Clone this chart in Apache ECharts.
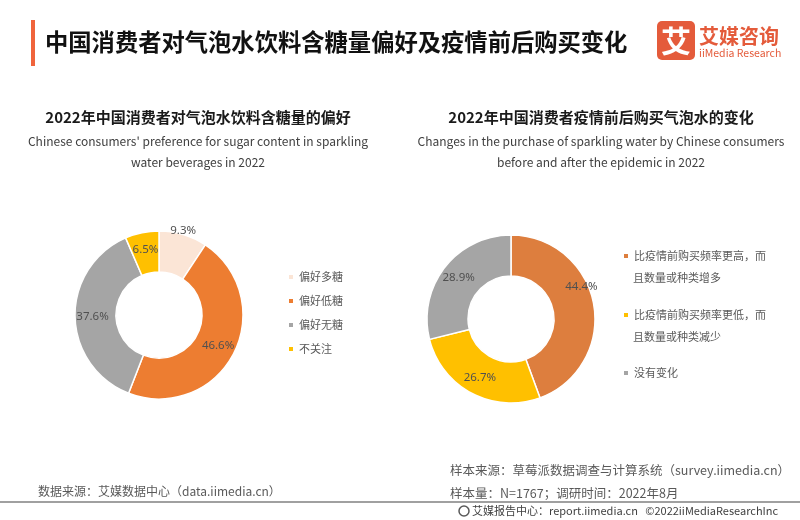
<!DOCTYPE html>
<html>
<head>
<meta charset="utf-8">
<script src="https://cdn.jsdelivr.net/npm/echarts@6/dist/echarts.min.js"></script>
<style>
html,body{margin:0;padding:0;background:#fff;}
#main{width:800px;height:520px;}
</style>
</head>
<body>
<div id="main"></div>
<script>
// ---- data ----
const sugarCategories = ['偏好多糖', '偏好低糖', '偏好无糖', '不关注'];
const sugarValues = [9.3, 46.6, 37.6, 6.5];
const sugarColors = ['#FBE5D6', '#ED7D31', '#A5A5A5', '#FFC000'];

const changeCategories = ['比疫情前购买频率更高，而且数量或种类增多', '比疫情前购买频率更低，而且数量或种类减少', '没有变化'];
const changeLegendLine1 = ['比疫情前购买频率更高，而', '比疫情前购买频率更低，而', '没有变化'];
const changeLegendLine2 = ['且数量或种类增多', '且数量或种类减少', ''];
const changeValues = [44.4, 26.7, 28.9];
const changeColors = ['#DD7E3E', '#FFC000', '#A5A5A5'];

const mainTitle = '中国消费者对气泡水饮料含糖量偏好及疫情前后购买变化';
const leftTitle = '2022年中国消费者对气泡水饮料含糖量的偏好';
const leftSub1 = "Chinese consumers' preference for sugar content in sparkling";
const leftSub2 = 'water beverages in 2022';
const rightTitle = '2022年中国消费者疫情前后购买气泡水的变化';
const rightSub1 = 'Changes in the purchase of sparkling water by Chinese consumers';
const rightSub2 = 'before and after the epidemic in 2022';
const srcLeft = '数据来源：艾媒数据中心（data.iimedia.cn）';
const srcRight1 = '样本来源：草莓派数据调查与计算系统（survey.iimedia.cn）';
const srcRight2 = '样本量：N=1767；调研时间：2022年8月';
const footer = '艾媒报告中心：report.iimedia.cn   ©2022iiMediaResearchInc';

const FONT = '"Noto Sans CJK SC", "Noto Sans", sans-serif';
const chart = echarts.init(document.getElementById('main'), null, {renderer: 'canvas'});

function pieData(names, values, colors) {
  return names.map((n, i) => ({name: n, value: values[i], itemStyle: {color: colors[i]}}));
}
const firstLabelShift = function (p) {
  if (p.dataIndex === 0) return {dx: 5, dy: -21};
  return {};
};
const labelStyle = {
  show: true, position: 'inside', formatter: '{c}%',
  color: '#505050', fontSize: 11.5, fontFamily: '"Noto Sans", sans-serif'
};

function mkText(x, y, text, size, color, weight, align) {
  return {type: 'text', x: x, y: y, silent: true,
    style: {text: text, font: (weight || 'normal') + ' ' + size + 'px ' + FONT,
      fill: color, textAlign: align || 'left', textVerticalAlign: 'middle', verticalAlign: 'middle', align: align || 'left'}};
}

function changeLegend(i, top) {
  return {
    orient: 'vertical', left: 622, top: top, padding: 0,
    itemWidth: 6, itemHeight: 6, icon: 'rect', selectedMode: false,
    data: [changeCategories[i]],
    formatter: n => changeLegendLine1[changeCategories.indexOf(n)],
    textStyle: {color: '#595959', fontSize: 11, lineHeight: 22, fontFamily: FONT}
  };
}

const option = {
  backgroundColor: '#fff',
  animation: false,
  legend: [
    {
      orient: 'vertical', left: 287, top: 270, padding: 0, itemGap: 10,
      itemWidth: 6, itemHeight: 6, icon: 'rect', selectedMode: false,
      data: sugarCategories,
      textStyle: {color: '#595959', fontSize: 11, lineHeight: 14, fontFamily: FONT}
    },
    changeLegend(0, 245),
    changeLegend(1, 304),
    changeLegend(2, 362)
  ],
  series: [
    {
      name: 'sugar', type: 'pie', center: [159, 315], radius: [43, 84],
      startAngle: 90, clockwise: true, avoidLabelOverlap: false,
      itemStyle: {borderColor: '#fff', borderWidth: 1.5},
      label: labelStyle, labelLine: {show: false},
      labelLayout: firstLabelShift,
      emphasis: {disabled: true},
      data: pieData(sugarCategories, sugarValues, sugarColors)
    },
    {
      name: 'change', type: 'pie', center: [511, 319], radius: [43, 84],
      startAngle: 90, clockwise: true, avoidLabelOverlap: false,
      itemStyle: {borderColor: '#fff', borderWidth: 1.5},
      label: labelStyle, labelLine: {show: false},
      labelLayout: firstLabelShift,
      emphasis: {disabled: true},
      data: pieData(changeCategories, changeValues, changeColors)
    }
  ],
  graphic: [
    {type: 'rect', silent: true, shape: {x: 31, y: 20, width: 4, height: 46}, style: {fill: '#F0643C'}},
    mkText(45, 42, mainTitle, 23.3, '#111', 'bold'),
    {type: 'rect', silent: true, shape: {x: 657, y: 21, width: 38, height: 39, r: 5}, style: {fill: '#E45B3B'}},
    mkText(676, 41, '艾', 30, '#fff', 'bold', 'center'),
    mkText(699, 36, '艾媒咨询', 20, '#E45B3B', 'bold'),
    mkText(699, 53, 'iiMedia Research', 10.5, '#E45B3B', 'normal'),

    mkText(198, 117, leftTitle, 15, '#1a1a1a', 'bold', 'center'),
    mkText(198, 141, leftSub1, 12, '#404040', 'normal', 'center'),
    mkText(198, 162, leftSub2, 12, '#404040', 'normal', 'center'),
    mkText(601, 117, rightTitle, 15, '#1a1a1a', 'bold', 'center'),
    mkText(601, 141, rightSub1, 12, '#404040', 'normal', 'center'),
    mkText(601, 162, rightSub2, 12, '#404040', 'normal', 'center'),

    mkText(633, 278, changeLegendLine2[0], 11, '#595959', 'normal'),
    mkText(633, 337, changeLegendLine2[1], 11, '#595959', 'normal'),

    mkText(38, 491, srcLeft, 12, '#595959', 'normal'),
    mkText(450, 470, srcRight1, 12.5, '#595959', 'normal'),
    mkText(450, 493, srcRight2, 12.5, '#595959', 'normal'),
    {type: 'line', silent: true, shape: {x1: 0, y1: 502, x2: 800, y2: 502}, style: {stroke: '#808080', lineWidth: 1.5}},
    {type: 'circle', silent: true, shape: {cx: 464, cy: 511, r: 5}, style: {fill: 'none', stroke: '#595959', lineWidth: 1.5}},
    mkText(472, 511, footer, 11, '#404040', 'normal')
  ]
};
chart.setOption(option);
</script>
</body>
</html>
